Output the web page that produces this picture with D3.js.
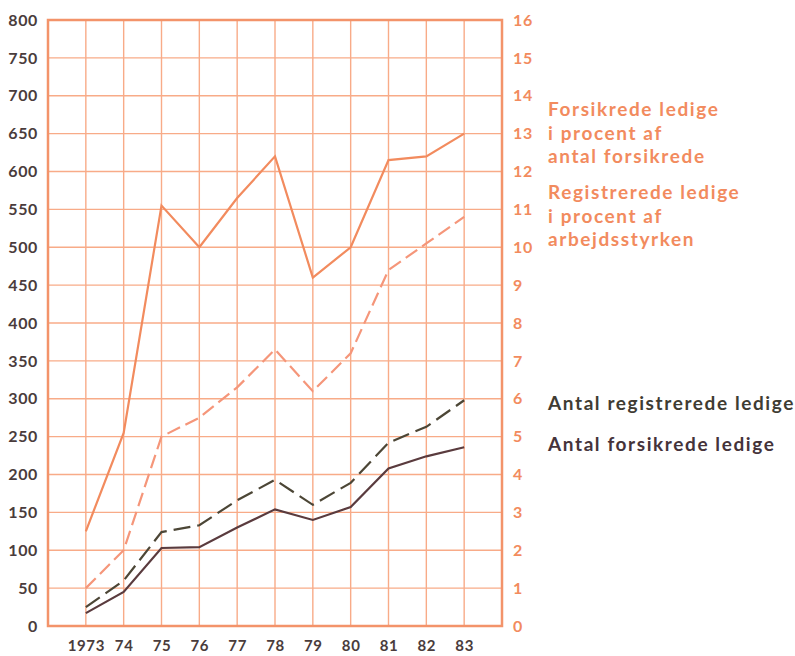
<!doctype html>
<html>
  <head>
    <meta charset="utf-8">
    <title>Ledighed 1973-83</title>
    <script src="https://cdn.jsdelivr.net/npm/d3@7"></script>
    <style>
      body { margin: 0; background: #fff; }
      text { font-family: Lato, "Open Sans", sans-serif; font-weight: bold; }
    </style>
  </head>
  <body>
    <script>
      const years = [1973, 1974, 1975, 1976, 1977, 1978, 1979, 1980, 1981, 1982, 1983];
      const yearLabels = ['1973', '74', '75', '76', '77', '78', '79', '80', '81', '82', '83'];

      // procent (højre akse)
      const forsikredePct = [2.5, 5.1, 11.1, 10.0, 11.3, 12.4, 9.2, 10.0, 12.3, 12.4, 13.0];
      const registreredePct = [1.0, 2.0, 5.0, 5.5, 6.3, 7.3, 6.2, 7.2, 9.4, 10.1, 10.8];

      // antal i 1000 (venstre akse)
      const antalRegistrerede = [25, 60, 124, 133, 166, 193, 160, 189, 242, 263, 298];
      const antalForsikrede = [17, 45, 103, 104, 130, 154, 140, 157, 208, 224, 236];

      const leftTicks = d3.range(0, 801, 50);
      const rightTicks = d3.range(0, 17, 1);

      const width = 795, height = 656;
      const orange = '#f28b5e';
      const gridColor = '#f8ab88';

      const svg = d3.select('body').append('svg')
          .attr('width', width)
          .attr('height', height);

      const x = d3.scaleLinear().domain([1972, 1984]).range([48, 502]);
      const yLeft = d3.scaleLinear().domain([0, 800]).range([626, 20]);
      const yRight = d3.scaleLinear().domain([0, 16]).range([626, 20]);

      // gitter
      svg.append('g')
        .selectAll('line')
        .data(leftTicks.slice(1, -1))
        .enter().append('line')
          .attr('x1', x(1972)).attr('x2', x(1984))
          .attr('y1', d => yLeft(d)).attr('y2', d => yLeft(d))
          .attr('stroke', gridColor).attr('stroke-width', 1.4);

      svg.append('g')
        .selectAll('line')
        .data(years)
        .enter().append('line')
          .attr('x1', d => x(d)).attr('x2', d => x(d))
          .attr('y1', yLeft(0)).attr('y2', yLeft(800))
          .attr('stroke', gridColor).attr('stroke-width', 1.4);

      svg.append('rect')
          .attr('x', x(1972)).attr('y', yLeft(800))
          .attr('width', x(1984) - x(1972)).attr('height', yLeft(0) - yLeft(800))
          .attr('fill', 'none').attr('stroke', '#f3936a').attr('stroke-width', 2.5);

      // akser
      const leftAxis = svg.append('g')
          .attr('transform', `translate(${x(1972)},0)`)
          .call(d3.axisLeft(yLeft).tickValues(leftTicks).tickSize(0).tickPadding(10));
      leftAxis.select('.domain').remove();
      leftAxis.selectAll('text')
          .attr('fill', '#4a3c3c').style('font-size', '16px').style('letter-spacing', '0.6px');

      const rightAxis = svg.append('g')
          .attr('transform', `translate(${x(1984)},0)`)
          .call(d3.axisRight(yRight).tickValues(rightTicks).tickSize(0).tickPadding(11));
      rightAxis.select('.domain').remove();
      rightAxis.selectAll('text')
          .attr('fill', orange).style('font-size', '16px').style('letter-spacing', '0.6px');

      const bottomAxis = svg.append('g')
          .attr('transform', `translate(0,${yLeft(0)})`)
          .call(d3.axisBottom(x).tickValues(years).tickFormat((d, i) => yearLabels[i]).tickSize(0).tickPadding(14));
      bottomAxis.select('.domain').remove();
      bottomAxis.selectAll('text')
          .attr('fill', '#4a3c3c').style('font-size', '15px').style('letter-spacing', '0.6px');

      // linjer
      const lineLeft = d3.line().x((d, i) => x(years[i])).y(d => yLeft(d));
      const lineRight = d3.line().x((d, i) => x(years[i])).y(d => yRight(d));

      svg.append('path').datum(forsikredePct)
          .attr('d', lineRight).attr('fill', 'none')
          .attr('stroke', orange).attr('stroke-width', 2.2);

      svg.append('path').datum(registreredePct)
          .attr('d', lineRight).attr('fill', 'none')
          .attr('stroke', '#f5967a').attr('stroke-width', 2.2)
          .attr('stroke-dasharray', '14,6');

      svg.append('path').datum(antalRegistrerede)
          .attr('d', lineLeft).attr('fill', 'none')
          .attr('stroke', '#4c4636').attr('stroke-width', 2.2)
          .attr('stroke-dasharray', '17,7');

      svg.append('path').datum(antalForsikrede)
          .attr('d', lineLeft).attr('fill', 'none')
          .attr('stroke', '#5a3b3e').attr('stroke-width', 2.2);

      // forklaringer
      const notes = [
        { lines: ['Forsikrede ledige', 'i procent af', 'antal forsikrede'], y: 116, color: orange },
        { lines: ['Registrerede ledige', 'i procent af', 'arbejdsstyrken'], y: 199, color: orange },
        { lines: ['Antal registrerede ledige'], y: 410, color: '#3f3c33' },
        { lines: ['Antal forsikrede ledige'], y: 451, color: '#45333a' }
      ];

      notes.forEach(n => {
        const t = svg.append('text')
            .attr('x', 548).attr('y', n.y)
            .attr('fill', n.color)
            .style('font-size', '19px')
            .style('letter-spacing', '1.6px');
        t.selectAll('tspan')
          .data(n.lines)
          .enter().append('tspan')
            .attr('x', 548)
            .attr('dy', (d, i) => i === 0 ? 0 : 23.5)
            .text(d => d);
      });
    </script>
  </body>
</html>
